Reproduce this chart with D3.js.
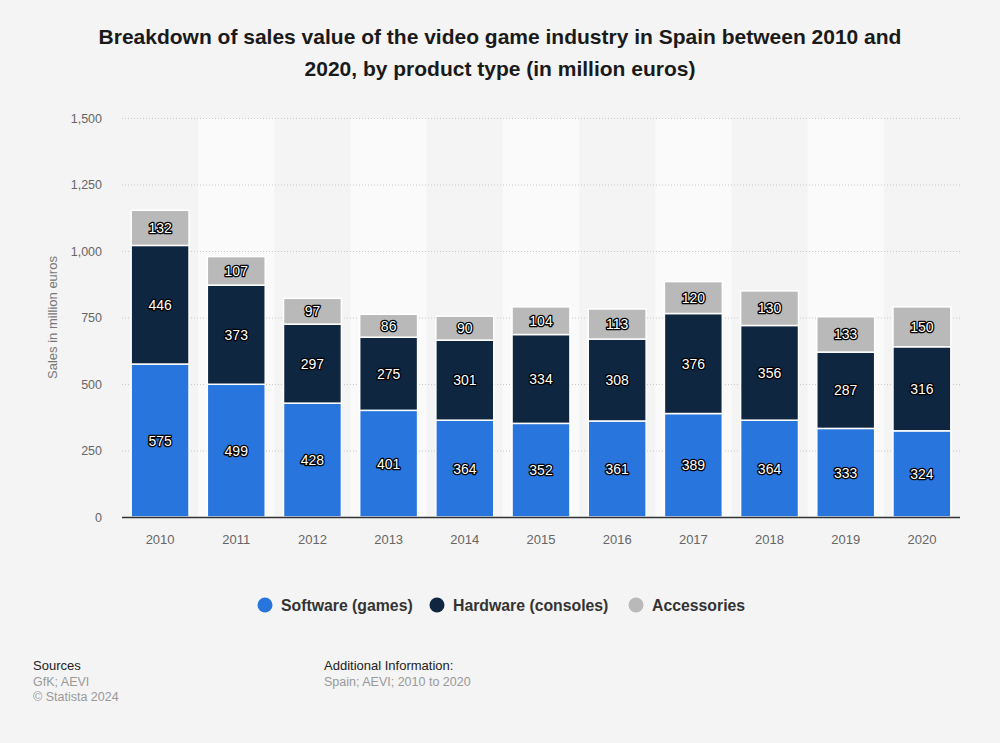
<!DOCTYPE html>
<html>
<head>
<meta charset="utf-8">
<script src="https://cdn.jsdelivr.net/npm/d3@7"></script>
<style>
  html, body { margin: 0; padding: 0; background: #f4f4f4; }
  svg { display: block; font-family: "Liberation Sans", Arial, sans-serif; }
</style>
</head>
<body>
<svg id="chart" width="1000" height="743"></svg>
<script>
const years = ["2010","2011","2012","2013","2014","2015","2016","2017","2018","2019","2020"];
const software = [575, 499, 428, 401, 364, 352, 361, 389, 364, 333, 324];
const hardware = [446, 373, 297, 275, 301, 334, 308, 376, 356, 287, 316];
const accessories = [132, 107, 97, 86, 90, 104, 113, 120, 130, 133, 150];
const seriesNames = ["Software (games)", "Hardware (consoles)", "Accessories"];
const seriesColors = ["#2876dd", "#0f2640", "#b9b9b9"];
const yTicks = [0, 250, 500, 750, 1000, 1250, 1500];

const svg = d3.select("#chart");
const W = 1000, H = 743;
const m = { left: 122, right: 40, top: 118, bottom: 226 };
const x0 = m.left, x1 = W - m.right, yTop = m.top, yBot = H - m.bottom;

svg.append("rect").attr("width", W).attr("height", H).attr("fill", "#f4f4f4");

// Title
const title = svg.append("text").attr("x", 500).attr("text-anchor", "middle")
  .attr("font-size", 21).attr("font-weight", "bold").attr("fill", "#1a1a1a");
title.append("tspan").attr("x", 500).attr("y", 44).text("Breakdown of sales value of the video game industry in Spain between 2010 and");
title.append("tspan").attr("x", 500).attr("y", 76).text("2020, by product type (in million euros)");

const x = d3.scaleBand().domain(years).range([x0, x1]).paddingInner(0.24).paddingOuter(0.12);
const y = d3.scaleLinear().domain([0, 1500]).range([yBot, yTop]);

// alternating column bands
const step = x.step();
svg.append("g").selectAll("rect").data(years.filter((d, i) => i % 2 === 1)).join("rect")
  .attr("x", d => x(d) - (step - x.bandwidth()) / 2)
  .attr("width", step)
  .attr("y", yTop).attr("height", yBot - yTop)
  .attr("fill", "#fafafa");

// gridlines
svg.append("g").selectAll("line").data(yTicks.filter(t => t > 0)).join("line")
  .attr("x1", x0).attr("x2", x1)
  .attr("y1", d => y(d) + 0.5).attr("y2", d => y(d) + 0.5)
  .attr("stroke", "#c8c8c8").attr("stroke-width", 1).attr("stroke-dasharray", "1,2");

// y axis labels
const yAxis = d3.axisLeft(y).tickValues(yTicks).tickFormat(d3.format(",")).tickSize(0).tickPadding(0);
const gy = svg.append("g").attr("transform", `translate(${x0 - 20},0)`).call(yAxis);
gy.select(".domain").remove();
gy.selectAll("text").attr("font-size", 12.5).attr("fill", "#666").attr("font-family", "Liberation Sans, Arial, sans-serif");

svg.append("text").attr("transform", `translate(57,${(yTop + yBot) / 2}) rotate(-90)`)
  .attr("text-anchor", "middle").attr("font-size", 13).attr("fill", "#777")
  .text("Sales in million euros");

// stacked bars
const data = years.map((yr, i) => ({ year: yr, s0: software[i], s1: hardware[i], s2: accessories[i] }));
const stack = d3.stack().keys(["s0", "s1", "s2"])(data);

const gBars = svg.append("g");
stack.forEach((layer, li) => {
  gBars.append("g").selectAll("rect").data(layer).join("rect")
    .attr("x", d => x(d.data.year))
    .attr("width", x.bandwidth())
    .attr("y", d => y(d[1]))
    .attr("height", d => y(d[0]) - y(d[1]))
    .attr("fill", seriesColors[li])
    .attr("stroke", "#ffffff").attr("stroke-width", 1.5);
});

// x axis
const xAxis = d3.axisBottom(x).tickSize(0).tickPadding(18);
const gx = svg.append("g").attr("transform", `translate(0,${yBot})`).call(xAxis);
gx.select(".domain").remove();
gx.selectAll("text").attr("font-size", 13).attr("fill", "#666").attr("font-family", "Liberation Sans, Arial, sans-serif");
svg.append("line").attr("x1", x0).attr("x2", x1).attr("y1", yBot + 0.5).attr("y2", yBot + 0.5)
  .attr("stroke", "#333").attr("stroke-width", 1.5);

// labels
const gLab = svg.append("g");
stack.forEach((layer, li) => {
  gLab.append("g").selectAll("text").data(layer).join("text")
    .attr("x", d => x(d.data.year) + x.bandwidth() / 2)
    .attr("y", d => (y(d[0]) + y(d[1])) / 2 + 5)
    .attr("text-anchor", "middle")
    .attr("font-size", 14)
    .attr("fill", "#fff")
    .attr("stroke", "#000").attr("stroke-width", 2.6).attr("stroke-linejoin", "round")
    .attr("paint-order", "stroke")
    .text(d => d[1] - d[0]);
});

// legend
const legendItems = [
  { name: seriesNames[0], color: seriesColors[0], cx: 265 },
  { name: seriesNames[1], color: seriesColors[1], cx: 437 },
  { name: seriesNames[2], color: seriesColors[2], cx: 636 }
];
const gLeg = svg.append("g");
legendItems.forEach(it => {
  gLeg.append("circle").attr("cx", it.cx).attr("cy", 605).attr("r", 7.5).attr("fill", it.color);
  gLeg.append("text").attr("x", it.cx + 16).attr("y", 610.5)
    .attr("font-size", 15.8).attr("font-weight", "bold").attr("fill", "#333").text(it.name);
});

// footer
svg.append("text").attr("x", 33).attr("y", 670).attr("font-size", 13).attr("fill", "#222").text("Sources");
svg.append("text").attr("x", 33).attr("y", 686).attr("font-size", 12.5).attr("fill", "#999").text("GfK; AEVI");
svg.append("text").attr("x", 33).attr("y", 701).attr("font-size", 12.5).attr("fill", "#999").text("© Statista 2024");
svg.append("text").attr("x", 324).attr("y", 670).attr("font-size", 13).attr("fill", "#222").text("Additional Information:");
svg.append("text").attr("x", 324).attr("y", 686).attr("font-size", 12.5).attr("fill", "#999").text("Spain; AEVI; 2010 to 2020");
</script>
</body>
</html>
